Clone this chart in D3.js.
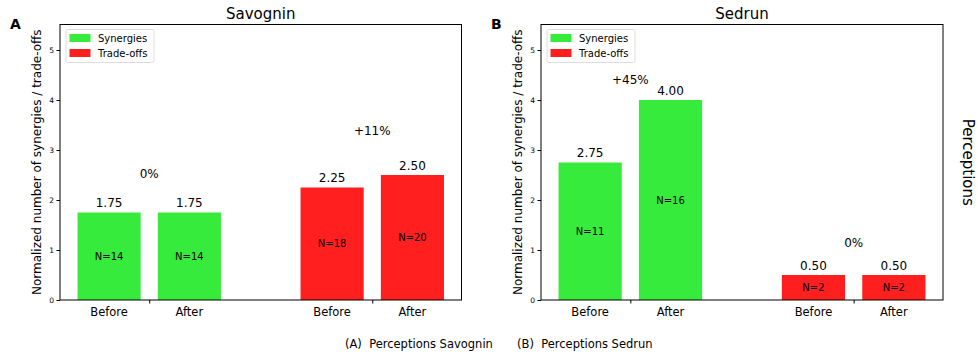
<!doctype html>
<html lang="en">
<head>
  <meta charset="utf-8">
  <script src="https://d3js.org/d3.v7.min.js"></script>
  <style>
    body { margin: 0; background: #fff; }
    svg { font-family: "DejaVu Sans", sans-serif; }
  </style>
</head>
<body>
  <svg id="chart" width="978" height="358"></svg>
  <script>
    // chart values
    const groups = ["Synergies", "Trade-offs"];
    const periods = ["Before", "After"];
    const savogninValues = [[1.75, 1.75], [2.25, 2.50]];
    const savogninN = [[14, 14], [18, 20]];
    const savogninChange = ["0%", "+11%"];
    const savogninChangeAt = [2.52, 3.38];
    const sedrunValues = [[2.75, 4.00], [0.50, 0.50]];
    const sedrunN = [[11, 16], [2, 2]];
    const sedrunChange = ["+45%", "0%"];
    const sedrunChangeAt = [4.40, 1.15];
    const yTicks = [0, 1, 2, 3, 4, 5];
    const colors = ["#36eb3b", "#ff1f1f"];

    const svg = d3.select("#chart");
    const height = 358;
    const margin = {top: 24.5, bottom: 58};

    const y = d3.scaleLinear()
        .domain([0, 5.51])
        .range([height - margin.bottom, margin.top]);

    function drawPanel(left, right, letter, title, values, ns, change, changeAt) {
      const x = d3.scaleLinear()
          .domain([-0.4, 1.4])
          .range([left, right]);
      const offset = 0.18, bw = 0.283;
      const g = svg.append("g");

      // bars
      groups.forEach((grp, gi) => {
        const rows = periods.map((p, pi) => ({p, pi, v: values[gi][pi], n: ns[gi][pi]}));
        const cx = d => gi + (d.pi === 0 ? -offset : offset);
        g.append("g").attr("fill", colors[gi])
          .selectAll("rect")
          .data(rows)
          .join("rect")
            .attr("x", d => x(cx(d) - bw / 2))
            .attr("width", d => x(bw) - x(0))
            .attr("y", d => y(d.v))
            .attr("height", d => y(0) - y(d.v));

        g.selectAll(null)
          .data(rows)
          .join("text")
            .attr("x", d => x(cx(d)))
            .attr("y", d => y(d.v) - 5.5)
            .attr("text-anchor", "middle")
            .attr("font-size", 12)
            .text(d => d.v.toFixed(2));

        g.selectAll(null)
          .data(rows)
          .join("text")
            .attr("x", d => x(cx(d)))
            .attr("y", d => y(d.v / 2))
            .attr("dy", "0.35em")
            .attr("text-anchor", "middle")
            .attr("font-size", 10)
            .text(d => "N=" + d.n);

        // period labels
        g.selectAll(null)
          .data(rows)
          .join("text")
            .attr("x", d => x(cx(d)))
            .attr("y", y(0) + 16)
            .attr("text-anchor", "middle")
            .attr("font-size", 11.5)
            .text(d => d.p);

        g.append("text")
          .attr("x", x(gi))
          .attr("y", y(changeAt[gi]))
          .attr("dy", "0.35em")
          .attr("text-anchor", "middle")
          .attr("font-size", 12)
          .text(change[gi]);
      });

      // axes
      g.append("g")
        .attr("transform", `translate(${left},0)`)
        .call(d3.axisLeft(y).tickValues(yTicks).tickFormat(d3.format("d")).tickSize(3.5).tickPadding(2.5))
        .call(a => a.select(".domain").remove())
        .call(a => a.selectAll("text").attr("font-size", 7.5).attr("font-family", "DejaVu Sans"));

      g.append("g")
        .attr("transform", `translate(0,${y(0)})`)
        .call(d3.axisBottom(x).tickValues([0, 1]).tickFormat("").tickSize(3.5))
        .call(a => a.select(".domain").remove());

      g.append("rect")
        .attr("x", left).attr("y", margin.top)
        .attr("width", right - left).attr("height", y(0) - margin.top)
        .attr("fill", "none").attr("stroke", "#000").attr("stroke-width", 1);

      g.append("text")
        .attr("transform", `translate(${left - 19},${(y(0) + margin.top) / 2}) rotate(-90)`)
        .attr("text-anchor", "middle")
        .attr("font-size", 12)
        .text("Normalized number of synergies / trade-offs");

      g.append("text")
        .attr("x", (left + right) / 2)
        .attr("y", 19)
        .attr("text-anchor", "middle")
        .attr("font-size", 15)
        .text(title);

      g.append("text")
        .attr("x", left - 50)
        .attr("y", 29)
        .attr("font-size", 14)
        .attr("font-weight", "bold")
        .text(letter);

      // legend
      const lg = g.append("g").attr("transform", `translate(${left + 6},${margin.top + 5})`);
      lg.append("rect")
        .attr("width", 88).attr("height", 33).attr("rx", 2)
        .attr("fill", "#fff").attr("stroke", "#ddd");
      groups.forEach((grp, gi) => {
        lg.append("rect")
          .attr("x", 3.5).attr("y", 4.5 + gi * 15)
          .attr("width", 21).attr("height", 8)
          .attr("fill", colors[gi]);
        lg.append("text")
          .attr("x", 32).attr("y", 8.5 + gi * 15)
          .attr("dy", "0.35em")
          .attr("font-size", 10)
          .text(grp);
      });
    }

    drawPanel(60, 461.5, "A", "Savognin", savogninValues, savogninN, savogninChange, savogninChangeAt);
    drawPanel(541, 943, "B", "Sedrun", sedrunValues, sedrunN, sedrunChange, sedrunChangeAt);

    svg.append("text")
      .attr("transform", `translate(963,${(y(0) + margin.top) / 2}) rotate(90)`)
      .attr("text-anchor", "middle")
      .attr("font-size", 15)
      .text("Perceptions");

    svg.append("text")
      .attr("x", 345).attr("y", 348)
      .attr("font-size", 11.5)
      .style("white-space", "pre")
      .text("(A)  Perceptions Savognin");
    svg.append("text")
      .attr("x", 517).attr("y", 348)
      .attr("font-size", 11.5)
      .style("white-space", "pre")
      .text("(B)  Perceptions Sedrun");
  </script>
</body>
</html>
